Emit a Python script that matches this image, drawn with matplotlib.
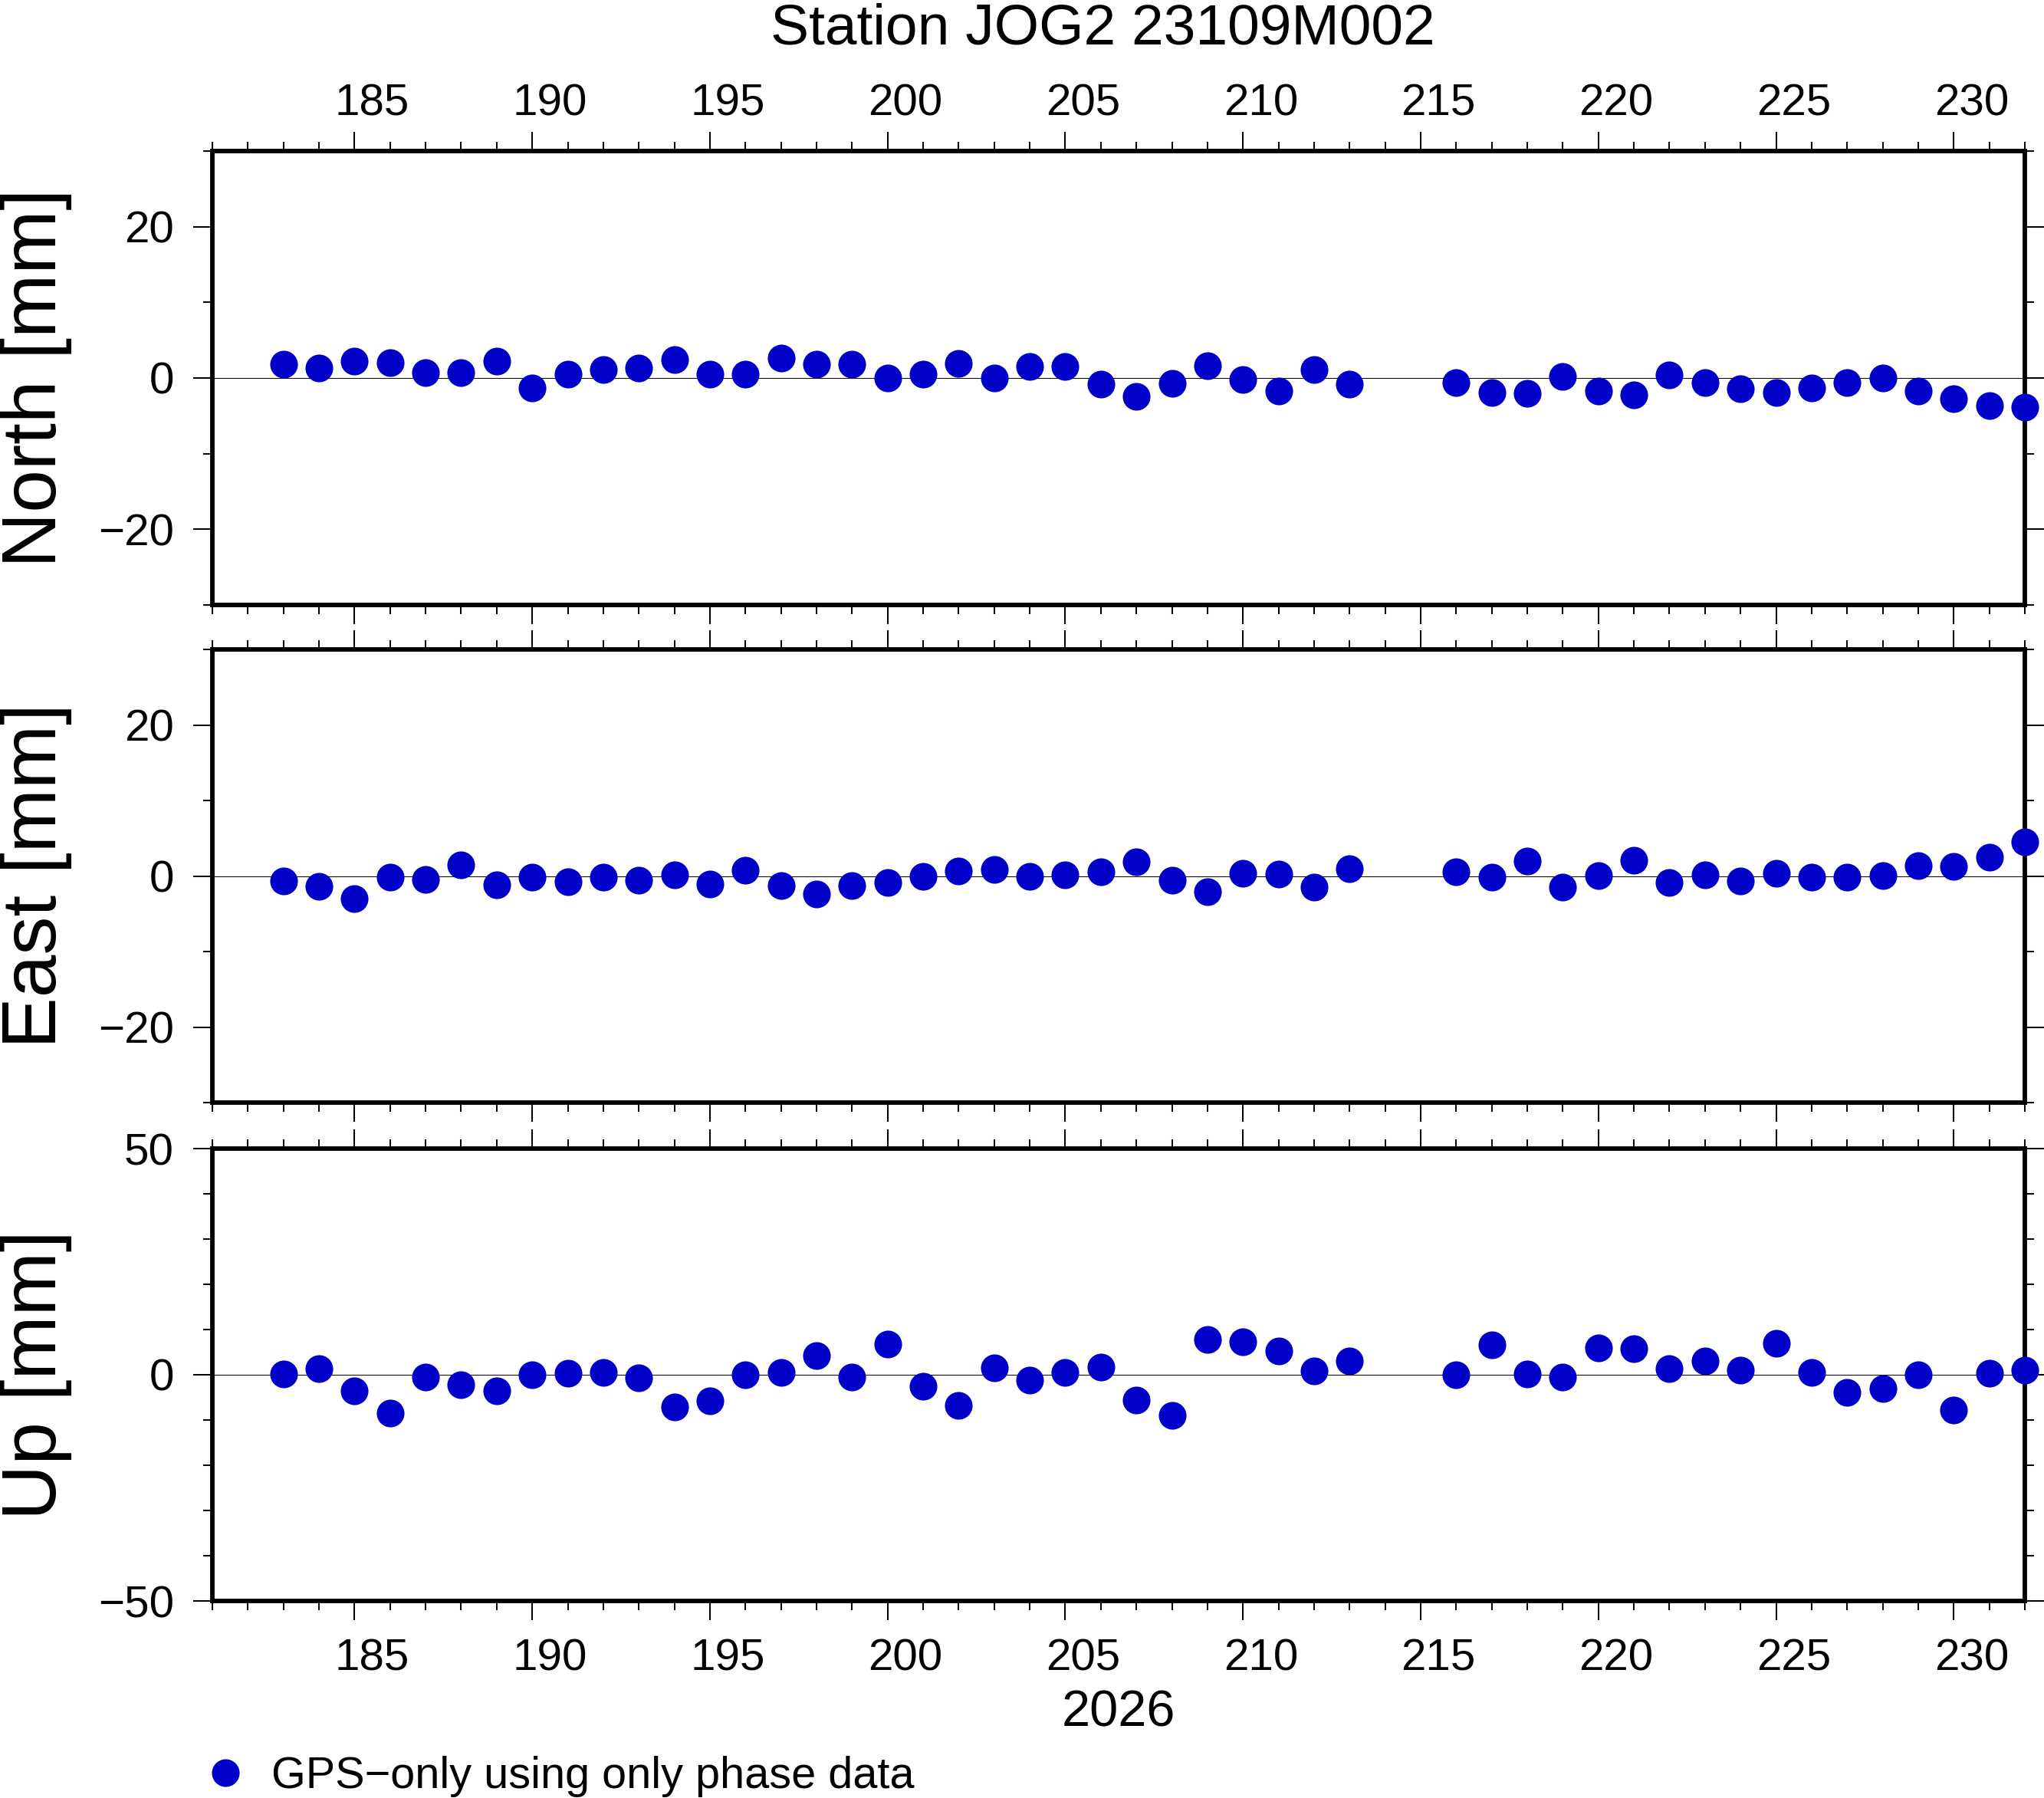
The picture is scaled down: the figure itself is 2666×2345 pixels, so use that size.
import matplotlib
matplotlib.use('Agg')
import matplotlib.pyplot as plt
from matplotlib.ticker import MultipleLocator
from matplotlib.lines import Line2D

plt.rcParams['font.family'] = ['Liberation Sans', 'DejaVu Sans']

# ---------------- data ----------------
days = list(range(183, 214)) + list(range(216, 233))

north = [1.83, 1.27, 2.18, 2.00, 0.66, 0.66, 2.18, -1.27, 0.46, 1.08,
         1.27, 2.39, 0.46, 0.46, 2.61, 1.79, 1.79, 0.05, 0.46, 1.88,
         0.05, 1.47, 1.57, -0.86, -2.39, -0.76, 1.67, -0.25, -1.68, 1.08,
         -0.86,
         -0.56, -1.88, -1.98, 0.17, -1.68, -2.18, 0.36, -0.56, -1.37, -1.88,
         -1.27, -0.56, -0.05, -1.68, -2.69, -3.60, -3.86]

east = [-0.66, -1.37, -3.00, -0.15, -0.46, 1.47, -1.17, -0.15, -0.76, -0.15,
        -0.56, 0.15, -1.07, 0.76, -1.27, -2.39, -1.27, -0.86, -0.05, 0.66,
        0.86, -0.05, 0.15, 0.56, 1.88, -0.56, -2.08, 0.36, 0.25, -1.47,
        0.96,
        0.56, -0.15, 1.98, -1.47, 0.05, 2.08, -0.86, 0.15, -0.66, 0.36,
        -0.15, -0.15, 0.05, 1.37, 1.27, 2.49, 4.54]

up = [0.17, 1.36, -3.54, -8.50, -0.51, -2.21, -3.54, 0.00, 0.34, 0.51,
      -0.68, -7.14, -5.81, 0.00, 0.51, 4.28, -0.51, 6.83, -2.55, -6.80,
      1.53, -1.19, 0.51, 1.70, -5.61, -9.00, 7.82, 7.34, 5.27, 0.85,
      3.06,
      0.00, 6.63, 0.17, -0.51, 5.95, 5.78, 1.36, 3.06, 1.02, 6.97,
      0.51, -3.90, -3.06, 0.00, -7.80, 0.34, 1.08]

x_range = (181, 232)
panel_labels = ['North [mm]', 'East [mm]', 'Up [mm]']
y_ranges = [(-30, 30), (-30, 30), (-50, 50)]
y_major_steps = [20, 20, 50]
y_minor_step = 10
title = 'Station JOG2 23109M002'
year_label = '2026'
legend_label = 'GPS\u2212only using only phase data'

COLOR = '#0000c8'
TICK_FS = 42

# ---------------- layout ----------------
W, H = 2666, 2345
fig = plt.figure(figsize=(W / 100, H / 100), dpi=100, facecolor='white')

left = 277 / W
width = 2364 / W
panel_px = [(197, 789), (847, 1438), (1498, 2088)]  # (top, bottom) in pixels

series = [north, east, up]
axes = []
for i, ((top_px, bot_px), vals) in enumerate(zip(panel_px, series)):
    rect = [left, (H - bot_px) / H, width, (bot_px - top_px) / H]
    ax = fig.add_axes(rect)
    axes.append(ax)
    ax.set_xlim(*x_range)
    ax.set_ylim(*y_ranges[i])
    ax.axhline(0, color='black', lw=0.75, zorder=1)
    ax.plot(days, vals, 'o', ms=26, mfc=COLOR, mec=COLOR, mew=0,
            clip_on=False, zorder=4)

    ax.xaxis.set_major_locator(MultipleLocator(5))
    ax.xaxis.set_minor_locator(MultipleLocator(1))
    ax.yaxis.set_major_locator(MultipleLocator(y_major_steps[i]))
    ax.yaxis.set_minor_locator(MultipleLocator(y_minor_step))

    for s in ax.spines.values():
        s.set_linewidth(4.2)
        s.set_zorder(2.5)

    ax.tick_params(which='both', direction='out', top=True, bottom=True,
                   left=True, right=True, width=1.45, labelsize=TICK_FS,
                   colors='black')
    ax.tick_params(which='major', length=18)
    ax.tick_params(which='minor', length=8.5)
    ax.tick_params(axis='x', labeltop=False, labelbottom=False)
    ax.tick_params(axis='y', pad=18)

    ax.set_ylabel(panel_labels[i], fontsize=72)
    ax.yaxis.set_label_coords(-0.0774, 0.5)

    # day annotations are centred on the day interval (half a day right)
    if i in (0, 2):
        lab = fig.add_axes(rect, frameon=False)
        lab.patch.set_visible(False)
        lab.set_xlim(x_range[0] - 0.5, x_range[1] - 0.5)
        lab.set_ylim(*y_ranges[i])
        lab.set_yticks([])
        lab.xaxis.set_major_locator(MultipleLocator(5))
        lab.xaxis.set_minor_locator(MultipleLocator(100))
        if i == 0:
            lab.tick_params(axis='x', which='both', length=0, top=False,
                            bottom=False, labeltop=True, labelbottom=False,
                            labelsize=TICK_FS, pad=25)
        else:
            lab.tick_params(axis='x', which='both', length=0, top=False,
                            bottom=False, labeltop=False, labelbottom=True,
                            labelsize=TICK_FS, pad=35)

fig.text(1438 / W, 1 - 57 / H, title, ha='center', va='baseline', fontsize=54)
fig.text(1459 / W, 1 - 2252 / H, year_label, ha='center', va='baseline',
         fontsize=48)

handle = Line2D([], [], ls='none', marker='o', ms=26, mfc=COLOR, mec=COLOR,
                mew=0)
fig.legend(handles=[handle], labels=[legend_label], loc='center left',
           bbox_to_anchor=(265.5 / W, 1 - 2317 / H), frameon=False,
           fontsize=41.5, handlelength=1.0, handletextpad=0.53, borderpad=0,
           borderaxespad=0)

fig.savefig('out.png', dpi=100, facecolor='white')
